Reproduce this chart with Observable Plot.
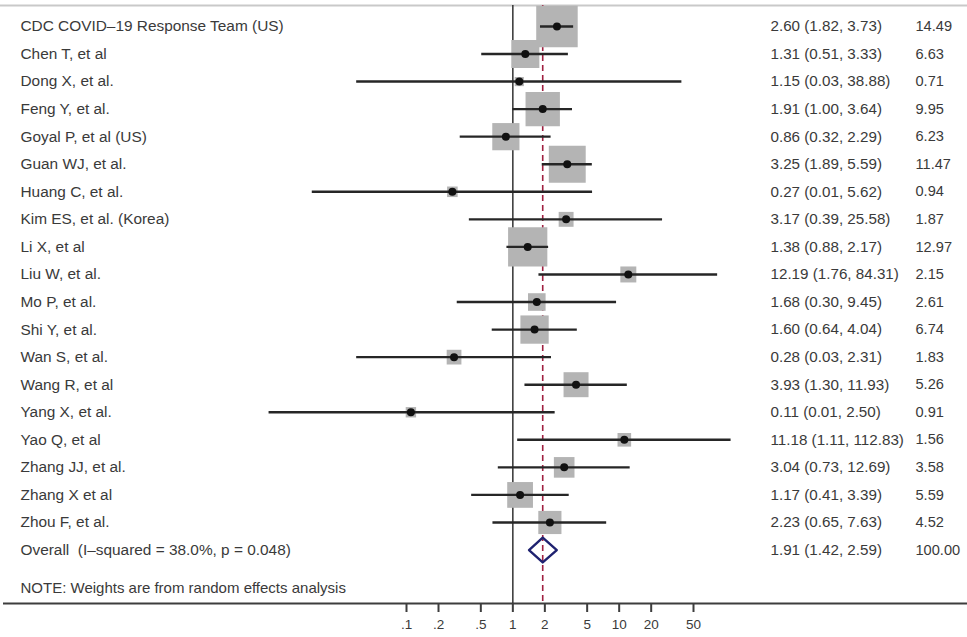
<!DOCTYPE html>
<html>
<head>
<meta charset="utf-8">
<script src="https://cdn.jsdelivr.net/npm/d3@7"></script>
<script src="https://cdn.jsdelivr.net/npm/@observablehq/plot@0.6"></script>
<style>
  html, body { margin: 0; padding: 0; background: #fff; }
</style>
</head>
<body>
<div id="chart"></div>
<script>
// ---- data ----
const studies = [
  "CDC COVID\u201319 Response Team (US)", "Chen T, et al", "Dong X, et al.", "Feng Y, et al.",
  "Goyal P, et al (US)", "Guan WJ, et al.", "Huang C, et al.", "Kim ES, et al. (Korea)",
  "Li X, et al", "Liu W, et al.", "Mo P, et al.", "Shi Y, et al.", "Wan S, et al.",
  "Wang R, et al", "Yang X, et al.", "Yao Q, et al", "Zhang JJ, et al.", "Zhang X et al",
  "Zhou F, et al."
];
const estimates = [2.60, 1.31, 1.15, 1.91, 0.86, 3.25, 0.27, 3.17, 1.38, 12.19, 1.68, 1.60, 0.28, 3.93, 0.11, 11.18, 3.04, 1.17, 2.23];
const lower     = [1.82, 0.51, 0.034, 1.00, 0.32, 1.89, 0.013, 0.39, 0.88, 1.76, 0.30, 0.64, 0.034, 1.30, 0.0051, 1.11, 0.73, 0.41, 0.65];
const upper     = [3.73, 3.33, 38.88, 3.64, 2.29, 5.59, 5.62, 25.58, 2.17, 84.31, 9.45, 4.04, 2.31, 11.93, 2.50, 112.83, 12.69, 3.39, 7.63];
const weights   = [14.49, 6.63, 0.71, 9.95, 6.23, 11.47, 0.94, 1.87, 12.97, 2.15, 2.61, 6.74, 1.83, 5.26, 0.91, 1.56, 3.58, 5.59, 4.52];

const overallLabel = "Overall\u00a0 (I\u2013squared = 38.0%, p = 0.048)";
const overallEst = 1.91, overallLo = 1.42, overallHi = 2.59, overallWeight = 100.00;
const noteText = "NOTE: Weights are from random effects analysis";
const tickValues = [0.1, 0.2, 0.5, 1, 2, 5, 10, 20, 50];
const tickLabels = [".1", ".2", ".5", "1", "2", "5", "10", "20", "50"];

// ---- derived tables ----
const rows = studies.map((label, i) => ({
  label, i, est: estimates[i], lo: lower[i], hi: upper[i], w: weights[i]
}));
const overallIndex = studies.length;
const allRows = rows.concat([{label: overallLabel, i: overallIndex, est: overallEst, lo: overallLo, hi: overallHi, w: overallWeight}]);
const ciText = d => `${d.est.toFixed(2)} (${d.lo.toFixed(2)}, ${d.hi.toFixed(2)})`;
const diamond = [
  {x: overallLo, y: overallIndex},
  {x: overallEst, y: overallIndex - 0.45},
  {x: overallHi, y: overallIndex},
  {x: overallEst, y: overallIndex + 0.45},
  {x: overallLo, y: overallIndex}
];
const ticks = tickValues.map((v, k) => ({v, label: tickLabels[k]}));

const yDomain = [-0.76, 20.94];
const font = "'Liberation Sans', Arial, Helvetica, sans-serif";
const textColor = "#3a3a3a";

const chart = Plot.plot({
  width: 967,
  height: 637,
  marginLeft: 406,
  marginRight: 274,
  marginTop: 5,
  marginBottom: 34,
  style: {fontFamily: font, background: "#fff", overflow: "visible"},
  x: {type: "log", domain: [0.1, 50], axis: null},
  y: {type: "linear", domain: yDomain, reverse: true, axis: null},
  r: {type: "sqrt", domain: [0, d3.max(weights)], range: [0, 23.4]},
  marks: [
    // frame lines
    Plot.ruleY([yDomain[0]], {stroke: "#c9c9c9", strokeWidth: 2, insetLeft: -406, insetRight: -274}),
    Plot.ruleY([yDomain[1]], {stroke: "#3d3d3d", strokeWidth: 1.8, insetLeft: -403, insetRight: -274}),
    // reference lines
    Plot.ruleX([1], {stroke: "#333", strokeWidth: 1.5}),
    Plot.ruleX([overallEst], {stroke: "#a02040", strokeWidth: 1.6, strokeDasharray: "6,4"}),
    // weight boxes
    Plot.dot(rows, {x: "est", y: "i", r: "w", symbol: "square", fill: "#b4b4b4", stroke: "none"}),
    // confidence intervals
    Plot.ruleY(rows, {y: "i", x1: "lo", x2: "hi", stroke: "#262626", strokeWidth: 2.4}),
    Plot.dot(rows, {x: "est", y: "i", r: 4, fill: "#111", stroke: "none"}),
    // overall diamond
    Plot.line(diamond, {x: "x", y: "y", stroke: "#1f2270", strokeWidth: 2.4, fill: "none"}),
    // text columns
    Plot.text(allRows, {y: "i", text: "label", frameAnchor: "left", dx: -386, textAnchor: "start",
      fontSize: 15.4, fill: textColor}),
    Plot.text(allRows, {y: "i", text: ciText, frameAnchor: "right", dx: 77, textAnchor: "start",
      fontSize: 15.2, fill: textColor}),
    Plot.text(allRows, {y: "i", text: d => d.w.toFixed(2), frameAnchor: "right", dx: 222, textAnchor: "start",
      fontSize: 14.6, fill: textColor}),
    Plot.text([noteText], {frameAnchor: "bottom-left", dx: -386, dy: -11, textAnchor: "start",
      fontSize: 15, fill: textColor}),
    // axis ticks (labels drawn separately)
    Plot.axisX({ticks: tickValues, tickFormat: () => "", tickSize: 9, stroke: "#3d3d3d", strokeWidth: 2, label: null}),
    Plot.text(ticks, {x: "v", text: "label", frameAnchor: "bottom", dy: 25, fontSize: 13.5, fill: textColor})
  ]
});
document.getElementById("chart").appendChild(chart);
</script>
</body>
</html>
